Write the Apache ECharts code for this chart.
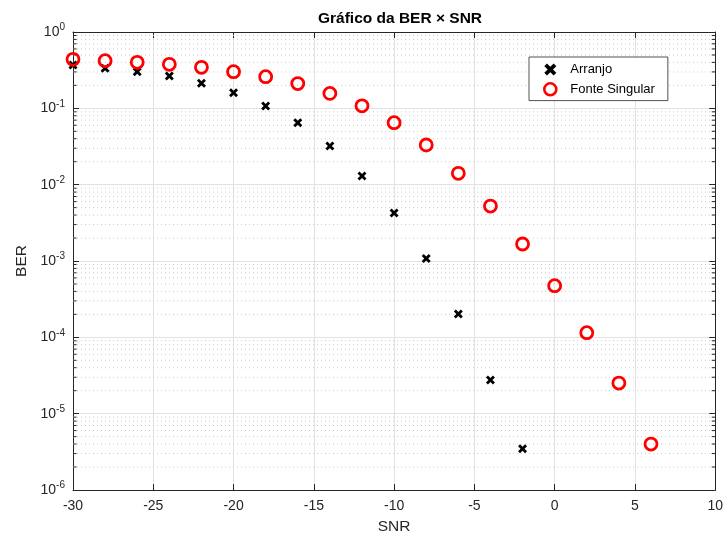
<!DOCTYPE html>
<html>
<head>
<meta charset="utf-8">
<script src="https://cdn.jsdelivr.net/npm/echarts@6/dist/echarts.min.js"></script>
<style>
  html, body { margin: 0; padding: 0; background: #fff; }
  #chart { width: 726px; height: 541px; }
</style>
</head>
<body>
<div id="chart"></div>
<script>
// SNR values (dB) for each curve
const snrArranjo = [-30, -28, -26, -24, -22, -20, -18, -16, -14, -12, -10, -8, -6, -4, -2];
const berArranjo = [0.37, 0.334, 0.302, 0.265, 0.213, 0.160, 0.107, 0.0648, 0.0321, 0.0130,
                    0.00425, 0.00108, 2.02e-4, 2.76e-5, 3.48e-6];

const snrFonte = [-30, -28, -26, -24, -22, -20, -18, -16, -14, -12, -10, -8, -6, -4, -2, 0, 2, 4, 6];
const berFonte = [0.439, 0.421, 0.401, 0.377, 0.345, 0.302, 0.260, 0.211, 0.157, 0.108, 0.0648,
                  0.0331, 0.0141, 0.00525, 0.00167, 4.75e-4, 1.15e-4, 2.52e-5, 4.0e-6];

// axis ranges and tick settings
const xRange = [-30, 10];
const xStep = 5;
const yRange = [1e-6, 1];
const minorMultipliers = [2, 3, 4, 5, 6, 7, 8, 9];

const TEXT = '#262626';
const FONT = 'Liberation Sans, Arial, Helvetica, sans-serif';

// minor log gridlines: 2..9 x 10^k inside the y range
const minorValues = [];
for (let e = -6; e < 0; e++) {
  for (const m of minorMultipliers) minorValues.push([0, m * Math.pow(10, e)]);
}

const pairs = (xs, ys) => xs.map((x, i) => [x, ys[i]]);

const CROSS = 'path://M0,2.2L2.2,0L5,2.8L7.8,0L10,2.2L7.2,5L10,7.8L7.8,10L5,7.2L2.2,10L0,7.8L2.8,5Z';

const chart = echarts.init(document.getElementById('chart'), null, { renderer: 'canvas' });

const option = {
  animation: false,
  backgroundColor: '#fff',
  textStyle: { fontFamily: FONT, color: TEXT },
  title: {
    text: 'Gráfico da BER × SNR',
    left: 395,
    textAlign: 'center',
    top: 6,
    textStyle: { fontFamily: FONT, fontSize: 15.5, fontWeight: 'bold', color: '#000' }
  },
  grid: { left: 73, right: 9, top: 32, bottom: 51, containLabel: false },
  legend: {
    orient: 'vertical',
    left: 529,
    top: 57,
    padding: [6, 13, 4, 14],
    itemWidth: 30,
    itemHeight: 12,
    itemGap: 6,
    itemTextGap: 14,
    backgroundColor: '#fff',
    borderColor: '#262626',
    borderWidth: 0.8,
    borderRadius: 0,
    textStyle: { fontFamily: FONT, fontSize: 13, color: '#000' },
    data: [
      { name: 'Arranjo', itemStyle: { opacity: 1 } },
      { name: 'Fonte Singular', itemStyle: { opacity: 1, borderWidth: 2.6 } }
    ]
  },
  xAxis: [
    {
      type: 'value', min: xRange[0], max: xRange[1], interval: xStep,
      position: 'bottom',
      name: 'SNR', nameLocation: 'middle', nameGap: 29,
      nameTextStyle: { fontFamily: FONT, fontSize: 15.5, color: TEXT },
      axisLine: { onZero: false, lineStyle: { color: TEXT, width: 1 } },
      axisTick: { inside: true, length: 6, lineStyle: { color: TEXT } },
      axisLabel: { fontFamily: FONT, fontSize: 14, color: TEXT, margin: 9 },
      splitLine: { show: true, lineStyle: { color: '#e2e2e2', width: 1 } }
    },
    {
      type: 'value', min: xRange[0], max: xRange[1], interval: xStep,
      position: 'top',
      axisLine: { onZero: false, lineStyle: { color: TEXT, width: 1 } },
      axisTick: { inside: true, length: 6, lineStyle: { color: TEXT } },
      axisLabel: { show: false },
      splitLine: { show: false }
    }
  ],
  yAxis: [
    {
      type: 'log', logBase: 10, min: yRange[0], max: yRange[1],
      position: 'left',
      name: 'BER', nameLocation: 'middle', nameGap: 41,
      nameTextStyle: { fontFamily: FONT, fontSize: 15.5, color: TEXT },
      axisLine: { onZero: false, lineStyle: { color: TEXT, width: 1 } },
      axisTick: { inside: true, length: 6, lineStyle: { color: TEXT } },
      axisLabel: {
        margin: 8,
        formatter: v => '{b|10}{s|' + Math.round(Math.log10(v)) + '}',
        rich: {
          b: { fontFamily: FONT, fontSize: 14, color: TEXT },
          s: { fontFamily: FONT, fontSize: 10, color: TEXT, padding: [0, 0, 9, 0] }
        }
      },
      splitLine: { show: true, lineStyle: { color: '#e2e2e2', width: 1 } }
    },
    {
      type: 'log', logBase: 10, min: yRange[0], max: yRange[1],
      position: 'right',
      axisLine: { onZero: false, lineStyle: { color: TEXT, width: 1 } },
      axisTick: { inside: true, length: 6, lineStyle: { color: TEXT } },
      axisLabel: { show: false },
      splitLine: { show: false }
    }
  ],
  series: [
    {
      // dotted minor gridlines plus minor ticks on both vertical edges
      type: 'custom',
      name: 'minor',
      silent: true,
      z: 1,
      data: minorValues,
      renderItem: (params, api) => {
        const yv = api.value(1);
        const pL = api.coord([xRange[0], yv]);
        const pR = api.coord([xRange[1], yv]);
        return {
          type: 'group',
          children: [
            {
              type: 'line',
              shape: { x1: pL[0], y1: pL[1], x2: pR[0], y2: pR[1] },
              style: { stroke: '#cdcdcd', lineWidth: 1, lineDash: [1, 3] }
            },
            {
              type: 'line',
              shape: { x1: pL[0], y1: pL[1], x2: pL[0] + 3.5, y2: pL[1] },
              style: { stroke: TEXT, lineWidth: 1 }
            },
            {
              type: 'line',
              shape: { x1: pR[0] - 3.5, y1: pR[1], x2: pR[0], y2: pR[1] },
              style: { stroke: TEXT, lineWidth: 1 }
            }
          ]
        };
      }
    },
    {
      name: 'Arranjo',
      type: 'scatter',
      z: 3,
      data: pairs(snrArranjo, berArranjo),
      symbol: CROSS,
      symbolSize: 9,
      itemStyle: { color: '#000', opacity: 1 }
    },
    {
      name: 'Fonte Singular',
      type: 'scatter',
      z: 4,
      data: pairs(snrFonte, berFonte),
      symbol: 'circle',
      symbolSize: 12,
      itemStyle: { color: 'rgba(0,0,0,0)', borderColor: '#ff0000', borderWidth: 2.8, opacity: 1 }
    }
  ]
};

chart.setOption(option);
</script>
</body>
</html>
